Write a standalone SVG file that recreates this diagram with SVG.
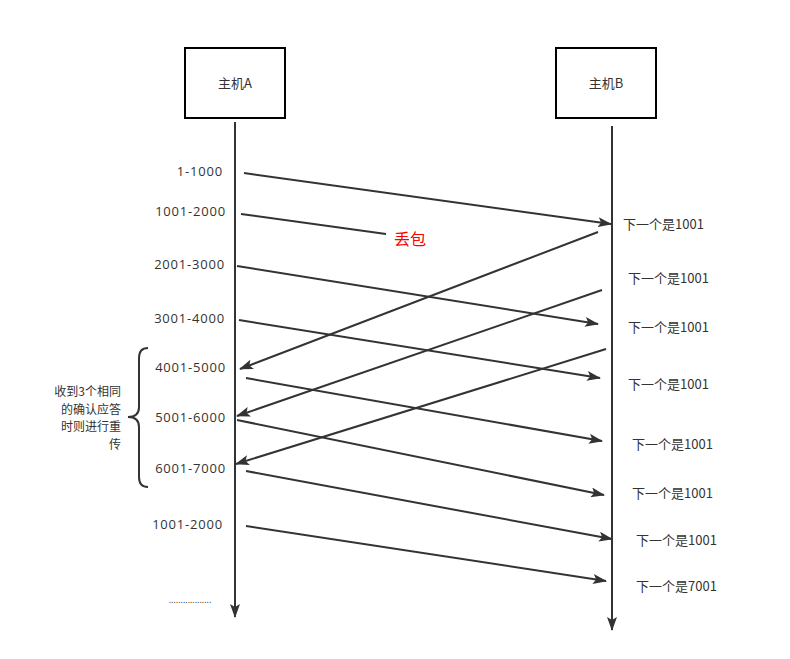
<svg xmlns="http://www.w3.org/2000/svg" width="790" height="659" viewBox="0 0 790 659">
<style>
.box{fill:#fff;stroke:#000;stroke-width:2}
.t{font-family:"Open Sans","Noto Sans CJK SC",sans-serif;font-size:13px;letter-spacing:0.8px;fill:#333}
.n{font-family:"Noto Sans CJK SC","Open Sans",sans-serif;font-size:13px;fill:#333}
.ln{stroke:#333;stroke-width:2;fill:none}
.ar{stroke:#333;stroke-width:2;fill:none;marker-end:url(#ah)}
</style>
<defs>
<marker id="ah" markerWidth="14" markerHeight="10" refX="13" refY="5" orient="auto" markerUnits="userSpaceOnUse">
<path d="M0,0 L14,5 L0,10 L3,5 Z" fill="#333"/>
</marker>
</defs>
<rect width="790" height="659" fill="#fff"/>
<g id="hostA">
<rect class="box" x="185" y="48" width="100" height="70"/>
<text class="n" x="235" y="88" text-anchor="middle">主机A</text>
</g>
<g id="hostB">
<rect class="box" x="556" y="48" width="100" height="70"/>
<text class="n" x="606" y="88" text-anchor="middle">主机B</text>
</g>
<g id="connectors">
<line class="ar" x1="235" y1="122" x2="235" y2="617"/>
<line class="ar" x1="612" y1="126" x2="612" y2="630"/>
<line class="ar" x1="244" y1="173" x2="611" y2="224"/>
<line class="ln" x1="241" y1="214" x2="386" y2="234"/>
<line class="ar" x1="237" y1="266" x2="598" y2="324"/>
<line class="ar" x1="239" y1="320" x2="600" y2="378"/>
<line class="ar" x1="246" y1="378" x2="602" y2="441"/>
<line class="ar" x1="237" y1="420" x2="604" y2="495"/>
<line class="ar" x1="246" y1="471" x2="612" y2="539"/>
<line class="ar" x1="246" y1="526" x2="606" y2="581"/>
<line class="ar" x1="598" y1="232" x2="240" y2="369"/>
<line class="ar" x1="602" y1="290" x2="237" y2="416"/>
<line class="ar" x1="606" y1="349" x2="236" y2="464"/>
</g>
<g id="leftLabels">
<text class="t" x="223" y="176" text-anchor="end">1-1000</text>
<text class="t" x="226" y="216" text-anchor="end">1001-2000</text>
<text class="t" x="225" y="269" text-anchor="end">2001-3000</text>
<text class="t" x="225" y="323" text-anchor="end">3001-4000</text>
<text class="t" x="226" y="372" text-anchor="end">4001-5000</text>
<text class="t" x="226" y="422" text-anchor="end">5001-6000</text>
<text class="t" x="226" y="473" text-anchor="end">6001-7000</text>
<text class="t" x="223" y="529" text-anchor="end">1001-2000</text>
<text x="190" y="603" text-anchor="middle" style="font-family:'Open Sans',sans-serif;font-size:9px;fill:#333">..................</text>
</g>
<g id="lost">
<text x="394" y="245" style="font-family:'Noto Sans CJK SC',sans-serif;font-size:16px;fill:#f00">丢包</text>
</g>
<g id="rightLabels">
<text class="n" x="623" y="229">下一个是1001</text>
<text class="n" x="628" y="283">下一个是1001</text>
<text class="n" x="628" y="332">下一个是1001</text>
<text class="n" x="628" y="389">下一个是1001</text>
<text class="n" x="632" y="449">下一个是1001</text>
<text class="n" x="632" y="498">下一个是1001</text>
<text class="n" x="636" y="545">下一个是1001</text>
<text class="n" x="636" y="591">下一个是7001</text>
</g>
<g id="brace">
<path class="ln" d="M148,348 Q139,348 139,358 L139,407 Q139,417 128,417 Q139,417 139,427 L139,477 Q139,487 148,487"/>
<text class="n" x="121" y="396" text-anchor="end" style="font-size:12px">收到3个相同</text>
<text class="n" x="121" y="413.5" text-anchor="end" style="font-size:12px">的确认应答</text>
<text class="n" x="121" y="431" text-anchor="end" style="font-size:12px">时则进行重</text>
<text class="n" x="121" y="448.5" text-anchor="end" style="font-size:12px">传</text>
</g>
</svg>
